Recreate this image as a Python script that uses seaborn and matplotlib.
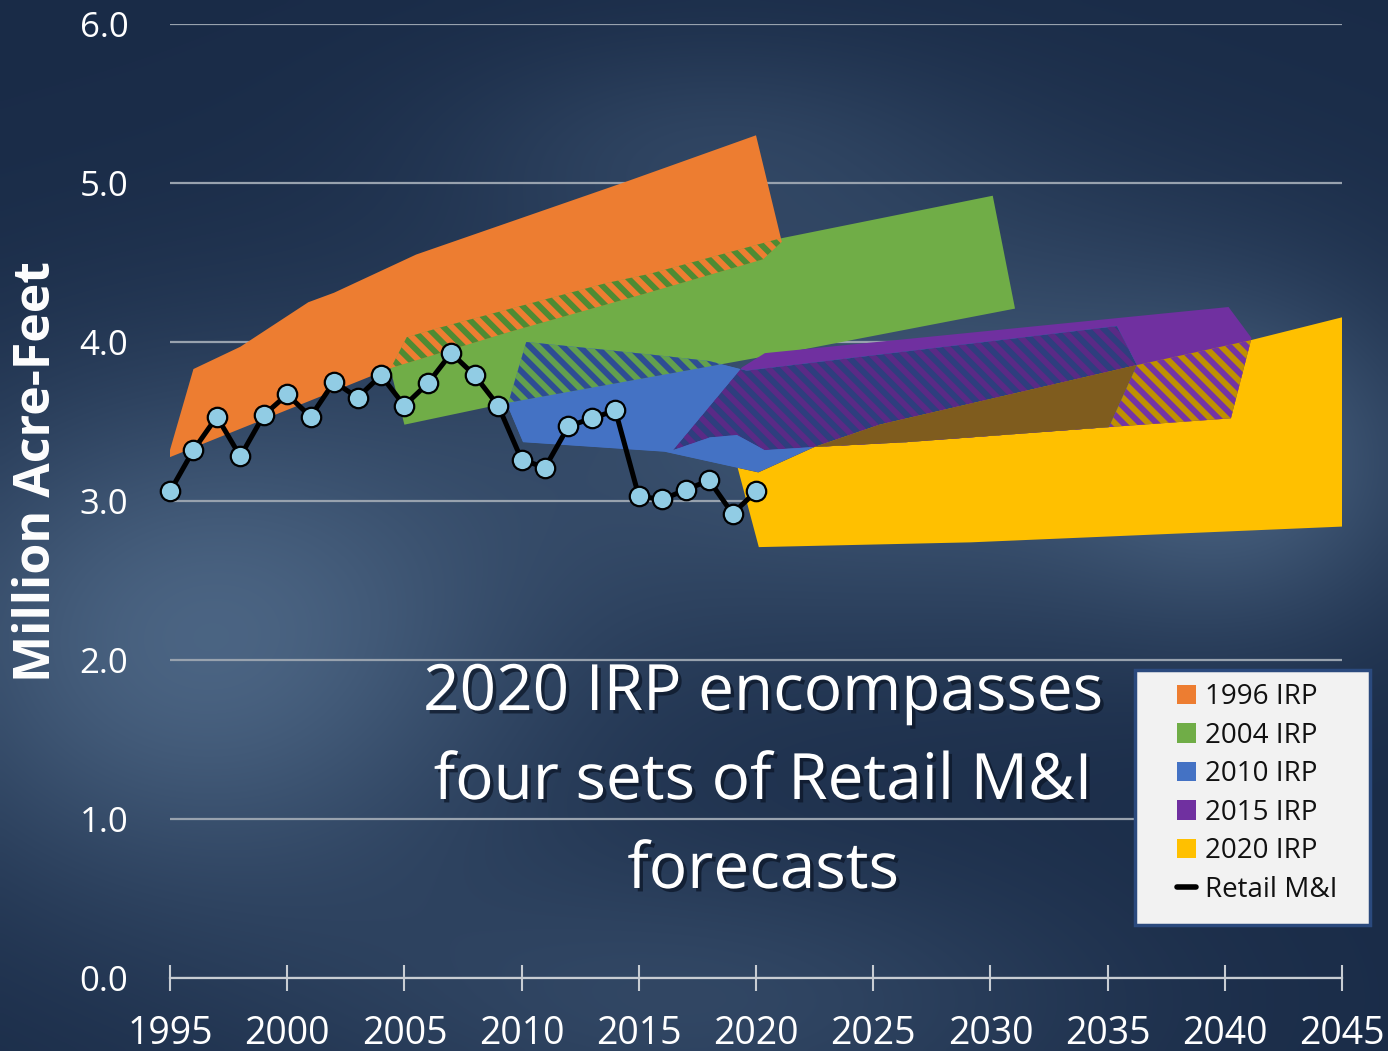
import numpy as np
import matplotlib
matplotlib.use("Agg")
import matplotlib.pyplot as plt
import seaborn as sns
from matplotlib.patches import Polygon, Patch, PathPatch, Rectangle
from matplotlib.path import Path
from matplotlib.lines import Line2D
import matplotlib.patheffects as pe

# ---- data: Retail M&I actuals (million acre-feet)
years = list(range(1995, 2021))
retail = [3.06, 3.32, 3.53, 3.28, 3.54, 3.67, 3.53, 3.75, 3.65, 3.79,
          3.60, 3.74, 3.93, 3.79, 3.60, 3.26, 3.21, 3.47, 3.52, 3.57,
          3.03, 3.01, 3.07, 3.13, 2.92, 3.06]

# ---- forecast bands: lower and upper edges
irp1996_lo_x = [1994.9, 2004.5, 2009.4, 2015.4, 2020.3, 2021.1]
irp1996_lo_y = [3.27, 3.84, 4.06, 4.31, 4.52, 4.63]
irp1996_hi_x = [1996.0, 1998.0, 2000.9, 2002.0, 2005.5, 2014.3, 2020.0]
irp1996_hi_y = [3.83, 3.97, 4.25, 4.31, 4.55, 5.00, 5.30]

irp2004_lo_x = [2005.0, 2009.5, 2021.9, 2031.05]
irp2004_lo_y = [3.48, 3.62, 3.95, 4.21]
irp2004_hi_x = [2004.4, 2005.1, 2006.5, 2013.6, 2015.5, 2021.0, 2030.1]
irp2004_hi_y = [3.83, 4.03, 4.09, 4.37, 4.43, 4.65, 4.92]

irp2010_lo_x = [2009.4, 2010.06, 2016.1, 2020.1, 2020.55, 2022.5, 2026.4, 2035.06, 2036.25]
irp2010_lo_y = [3.60, 3.37, 3.31, 3.18, 3.21, 3.34, 3.37, 3.465, 3.855]
irp2010_hi_x = [2010.2, 2013.6, 2016.2, 2018.0, 2019.6, 2024.1, 2035.4]
irp2010_hi_y = [4.00, 3.95, 3.91, 3.88, 3.82, 3.90, 4.10]

irp2015_lo_x = [2016.46, 2018.03, 2019.19, 2020.37, 2022.5, 2026.4, 2035.06, 2040.26]
irp2015_lo_y = [3.32, 3.40, 3.415, 3.32, 3.34, 3.37, 3.465, 3.52]
irp2015_hi_x = [2019.4, 2020.38, 2040.16, 2041.14]
irp2015_hi_y = [3.84, 3.93, 4.22, 4.025]

irp2020_lo_x = [2020.12, 2029.17, 2045.15]
irp2020_lo_y = [2.71, 2.74, 2.84]
irp2020_hi_x = [2019.18, 2022.5, 2025.27, 2036.25, 2041.07, 2045.13]
irp2020_hi_y = [3.23, 3.34, 3.48, 3.855, 4.01, 4.16]

legend_labels = ["1996 IRP", "2004 IRP", "2010 IRP", "2015 IRP", "2020 IRP", "Retail M&I"]
title_text = "2020 IRP encompasses\nfour sets of Retail M&I\nforecasts"

ORANGE, GREEN, BLUE, PURPLE, YELLOW = "#ED7D31", "#70AD47", "#4472C4", "#7030A0", "#FFC000"

sns.set_style("white")
plt.rcParams["font.family"] = ["Open Sans", "DejaVu Sans"]
plt.rcParams["hatch.linewidth"] = 4.2


def band(lo_x, lo_y, hi_x, hi_y):
    # counter-clockwise polygon: lower edge forward, upper edge back
    return np.column_stack([list(lo_x) + hi_x[::-1], list(lo_y) + hi_y[::-1]])


o_v = band(irp1996_lo_x, irp1996_lo_y, irp1996_hi_x, irp1996_hi_y)
g_v = band(irp2004_lo_x, irp2004_lo_y, irp2004_hi_x, irp2004_hi_y)
b_v = band(irp2010_lo_x, irp2010_lo_y, irp2010_hi_x, irp2010_hi_y)
p_v = band(irp2015_lo_x, irp2015_lo_y, irp2015_hi_x, irp2015_hi_y)
y_v = band(irp2020_lo_x, irp2020_lo_y, irp2020_hi_x, irp2020_hi_y)

fig = plt.figure(figsize=(13.88, 10.51), dpi=100)

# background
bg = fig.add_axes([0, 0, 1, 1], zorder=0)
bg.axis("off")
H, W = 210, 278
yy, xx = np.mgrid[0:H, 0:W]
px = xx * 1388 / W
py = yy * 1051 / H


def blob(cx, cy, sx, sy):
    return np.exp(-((px - cx) / sx) ** 2 - ((py - cy) / sy) ** 2)


light = (0.95 * blob(200, 640, 330, 260) + 0.7 * blob(900, 420, 420, 230)
         + 0.3 * blob(700, 140, 260, 110) + 0.55 * blob(1250, 470, 180, 160)
         + 0.45 * blob(700, 1000, 400, 150))
light = np.clip(light, 0, 1)
dark = np.array([0.10, 0.17, 0.28])
lite = np.array([0.30, 0.40, 0.52])
bg.imshow(dark + (lite - dark) * light[..., None], aspect="auto",
          extent=[0, 1, 0, 1], interpolation="bicubic")

ax = fig.add_axes([170 / 1388, 73 / 1051, 1172 / 1388, 954 / 1051], zorder=1)
ax.set_facecolor("none")


def poly(verts, face, z, hatch=None, hcolor=None, clip=None):
    p = Polygon(verts, closed=True, facecolor=face,
                edgecolor=hcolor if hatch else face, lw=0, hatch=hatch, zorder=z)
    ax.add_patch(p)
    if clip is not None:
        p.set_clip_path(clip)
    return p


HATCH = "\\\\"
orange = poly(o_v, ORANGE, 1.0)
green = poly(g_v, GREEN, 1.0)
poly(g_v, ORANGE, 1.1, HATCH, "#4E8B33", clip=orange)
yellow = poly(y_v, YELLOW, 1.2)
blue = poly(b_v, BLUE, 1.3)
purple = poly(p_v, PURPLE, 1.5)
poly(p_v, "#2E3E7E", 1.6, HATCH, "#5A2A86", clip=blue)
poly(p_v, "#BF9000", 1.7, HATCH, "#7434A4", clip=yellow)
poly(b_v, "#7F5C1E", 1.8, clip=yellow)
# blue without purple (keeps blue over yellow where purple is absent)
verts = np.vstack([b_v, b_v[:1], p_v[::-1], p_v[-1:]])
codes = ([Path.MOVETO] + [Path.LINETO] * (len(b_v) - 1) + [Path.CLOSEPOLY]
         + [Path.MOVETO] + [Path.LINETO] * (len(p_v) - 1) + [Path.CLOSEPOLY])
fix = PathPatch(Path(verts, codes), facecolor=BLUE, lw=0, zorder=1.9)
ax.add_patch(fix)
fix.set_clip_path(blue)
poly(b_v, "#62A04E", 2.0, HATCH, "#2E4D93", clip=green)

sns.lineplot(x=years, y=retail, ax=ax, color="black", linewidth=3.6,
             marker="o", markersize=14, markerfacecolor="#91CCE4",
             markeredgecolor="black", markeredgewidth=1.6, zorder=10,
             legend=False, clip_on=False)

ax.set_xlim(1995, 2045)
ax.set_ylim(0, 6)
ax.set_xticks(range(1995, 2046, 5))
ax.set_yticks(range(0, 7))
ax.set_yticklabels([f"{v:.1f}" for v in range(0, 7)])
ax.set_xlabel("")
ax.set_ylabel("")
ax.set_axisbelow(True)
ax.grid(axis="y", color="#98A2AE", lw=1.6)
ax.grid(axis="x", visible=False)
for s in ["top", "right", "left"]:
    ax.spines[s].set_visible(False)
ax.spines["bottom"].set_color("#C8CDD3")
ax.spines["bottom"].set_linewidth(1.6)
ax.tick_params(axis="x", direction="inout", length=19, width=1.5, color="#C8CDD3",
               pad=17, labelsize=27, labelcolor="white", bottom=True)
ax.tick_params(axis="y", length=0, pad=30, labelsize=25, labelcolor="white")

fig.text(37 / 1388, 1 - 472 / 1051, "Million Acre-Feet", rotation=90, color="white",
         fontsize=36, fontweight="bold", ha="center", va="center")

fig.text(763 / 1388, 1 - 782 / 1051, title_text, color="white", fontsize=46,
         ha="center", va="center", multialignment="center", linespacing=1.51, zorder=20,
         path_effects=[pe.withSimplePatchShadow(offset=(2.5, -2.5),
                                                shadow_rgbFace="#0B1526", alpha=0.7)])

# legend
box = Rectangle((1135 / 1388, 1 - 925 / 1051), 235 / 1388, 255 / 1051,
                transform=fig.transFigure, facecolor="#F2F2F2", edgecolor="#2B4A7E",
                lw=2.5, zorder=15, clip_on=False)
ax.add_artist(box)
handles = [Patch(facecolor=c, edgecolor="none") for c in [ORANGE, GREEN, BLUE, PURPLE, YELLOW]]
handles.append(Line2D([0], [0], color="black", lw=4))
leg = ax.legend(handles, legend_labels, loc="upper left", frameon=False,
                bbox_to_anchor=(1177 / 1388, 1 - 683 / 1051), bbox_transform=fig.transFigure,
                borderpad=0, borderaxespad=0, handlelength=0.7, handleheight=0.7,
                handletextpad=0.3, labelspacing=0.38, fontsize=20)
leg.set_zorder(16)
for t in leg.get_texts():
    t.set_color("#111111")

fig.savefig("out.png", dpi=100)
